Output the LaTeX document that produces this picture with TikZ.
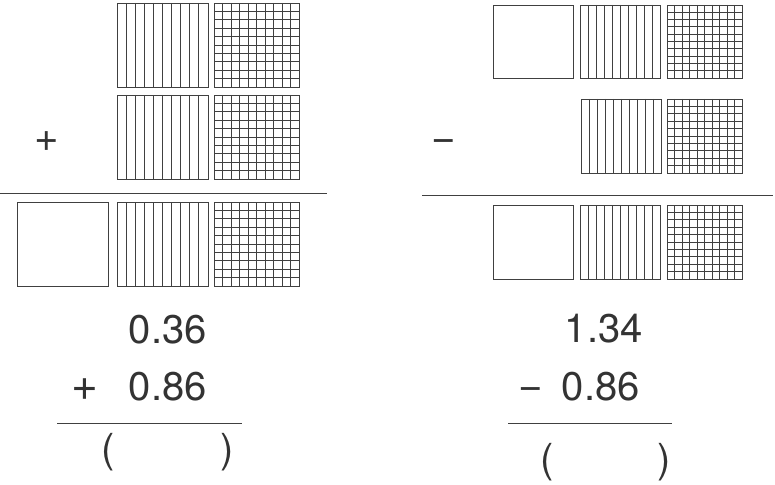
\documentclass[tikz,border=0pt]{standalone}
\usepackage{fontspec}
\setmainfont{TeX Gyre Heros}
\begin{document}
\begin{tikzpicture}[x=1pt,y=-1pt,
  sq/.style={draw=black!75,line width=0.9pt},
  rule/.style={draw=black!75,line width=1pt},
  num/.style={inner sep=0pt,text=black!80,font=\fontsize{40}{44}\selectfont},
  sign/.style={inner sep=0pt,anchor=base,text=black!80,font=\fontsize{42}{46}\selectfont}]
\useasboundingbox (0,0) rectangle (775,484);
\newcommand\sqblank[4]{\draw[sq] (#1,#2) rectangle ++(#3,#4);}
\newcommand\sqtenth[4]{\draw[sq] (#1,#2) rectangle ++(#3,#4);
  \foreach \i in {1,...,9} {\draw[sq] ({#1+\i*#3/10},#2) -- ++(0,#4);}}
\newcommand\sqhund[4]{\draw[sq] (#1,#2) rectangle ++(#3,#4);
  \foreach \i in {1,...,9} {\draw[sq] ({#1+\i*#3/10},#2) -- ++(0,#4);
    \draw[sq] (#1,{#2+\i*#4/10}) -- ++(#3,0);}}
% left panel
\sqtenth{117}{3}{91}{84}
\sqhund{214}{3}{85}{84}
\sqtenth{117}{95}{91}{84}
\sqhund{214}{95}{85}{84}
\sqblank{17}{202}{91}{84}
\sqtenth{117}{202}{91}{84}
\sqhund{214}{202}{85}{84}
\node[sign] (lplus) at (47,151) {+};
\coordinate (la) at (0,193); \coordinate (lb) at (327,193);
\draw[rule] (la) -- (lb);
% right panel
\sqblank{493}{5}{80}{73}
\sqtenth{580}{5}{80}{73}
\sqhund{667}{5}{75}{73}
\sqtenth{581}{99}{80}{74}
\sqhund{667}{99}{75}{74}
\sqblank{493}{205}{80}{74}
\sqtenth{580}{205}{80}{74}
\sqhund{667}{205}{75}{74}
\node[sign] (rminus) at (444,151) {−};
\coordinate (ra) at (422,195); \coordinate (rb) at (773,195);
\draw[rule] (ra) -- (rb);
% left calculation
\node[num,anchor=base east] (l1) at (207,343) {0.36};
\node[num,anchor=base east] (l2) at (207,400) {0.86};
\node[sign,font=\fontsize{46}{50}\selectfont] (lp) at (85,400) {+};
\coordinate (lc) at (57,423); \coordinate (ld) at (242,423);
\draw[rule] (lc) -- (ld);
\node[num,anchor=base] (lo) at (108,462) {(};
\node[num,anchor=base] (lcl) at (227,462) {)};
% right calculation
\node[num,anchor=base east] (r1) at (643,342) {1.34};
\node[num,anchor=base east] (r2) at (640,400) {0.86};
\node[sign] (rm) at (531,399) {−};
\coordinate (rc) at (508,423); \coordinate (rd) at (672,423);
\draw[rule] (rc) -- (rd);
\node[num,anchor=base] (ro) at (547,472) {(};
\node[num,anchor=base] (rcl) at (664,472) {)};
\end{tikzpicture}
\end{document}
